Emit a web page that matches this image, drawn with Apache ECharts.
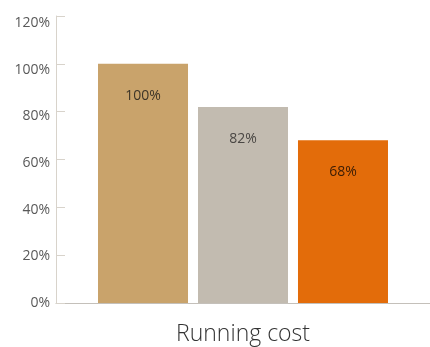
<!DOCTYPE html>
<html>
<head>
<meta charset="utf-8">
<script src="https://cdn.jsdelivr.net/npm/echarts@6/dist/echarts.min.js"></script>
<style>
  html, body { margin: 0; padding: 0; background: #fff; }
  #chart { width: 430px; height: 347px; }
</style>
</head>
<body>
<div id="chart"></div>
<script>
// Running cost comparison, relative to the baseline (100%)
const categories = ['Running cost'];
const seriesNames = ['A', 'B', 'C'];
const seriesValues = [[100], [82], [68]];
const seriesColors = ['#c9a36b', '#c2bbb0', '#e36c0a'];
const labelColors = ['#3d3528', '#4a4744', '#3a1c05'];
const yTicks = { min: 0, max: 120, interval: 20 };

const chart = echarts.init(document.getElementById('chart'), null, { renderer: 'canvas' });

const font = '"Open Sans", "Noto Sans", sans-serif';

chart.setOption({
  animation: false,
  grid: [
    // plot area
    { left: 56, right: -2, top: 16, bottom: 44 },
    // tick-label column, laid out slightly tighter than the ticks
    { left: 56, right: -2, top: 23, bottom: 44 }
  ],
  xAxis: [
    {
      type: 'category',
      gridIndex: 0,
      data: categories,
      axisLine: { lineStyle: { color: '#c4c0ba', width: 1 } },
      axisTick: { show: false },
      axisLabel: {
        margin: 20,
        fontFamily: font,
        fontWeight: 300,
        fontSize: 23,
        color: '#333'
      }
    },
    { type: 'category', gridIndex: 1, data: categories, show: false }
  ],
  yAxis: [
    {
      type: 'value',
      gridIndex: 0,
      min: yTicks.min,
      max: yTicks.max,
      interval: yTicks.interval,
      axisLine: { show: true, lineStyle: { color: '#d8d3cb', width: 1 } },
      axisTick: { show: true, inside: true, length: 9, lineStyle: { color: '#d8d3cb' } },
      splitLine: { show: false },
      axisLabel: { show: false }
    },
    {
      type: 'value',
      gridIndex: 1,
      min: yTicks.min,
      max: yTicks.max,
      interval: yTicks.interval,
      axisLine: { show: false },
      axisTick: { show: false },
      splitLine: { show: false },
      axisLabel: {
        margin: 6,
        formatter: '{value}%',
        fontFamily: font,
        fontSize: 14,
        color: '#595959'
      }
    }
  ],
  series: seriesValues.map((vals, i) => ({
    name: seriesNames[i],
    type: 'bar',
    xAxisIndex: 0,
    yAxisIndex: 0,
    data: vals,
    barWidth: 90,
    barGap: '11.1%',
    itemStyle: { color: seriesColors[i] },
    label: {
      show: true,
      position: 'insideTop',
      distance: 25,
      formatter: '{c}%',
      fontFamily: font,
      fontSize: 14,
      color: labelColors[i]
    }
  }))
});
</script>
</body>
</html>
